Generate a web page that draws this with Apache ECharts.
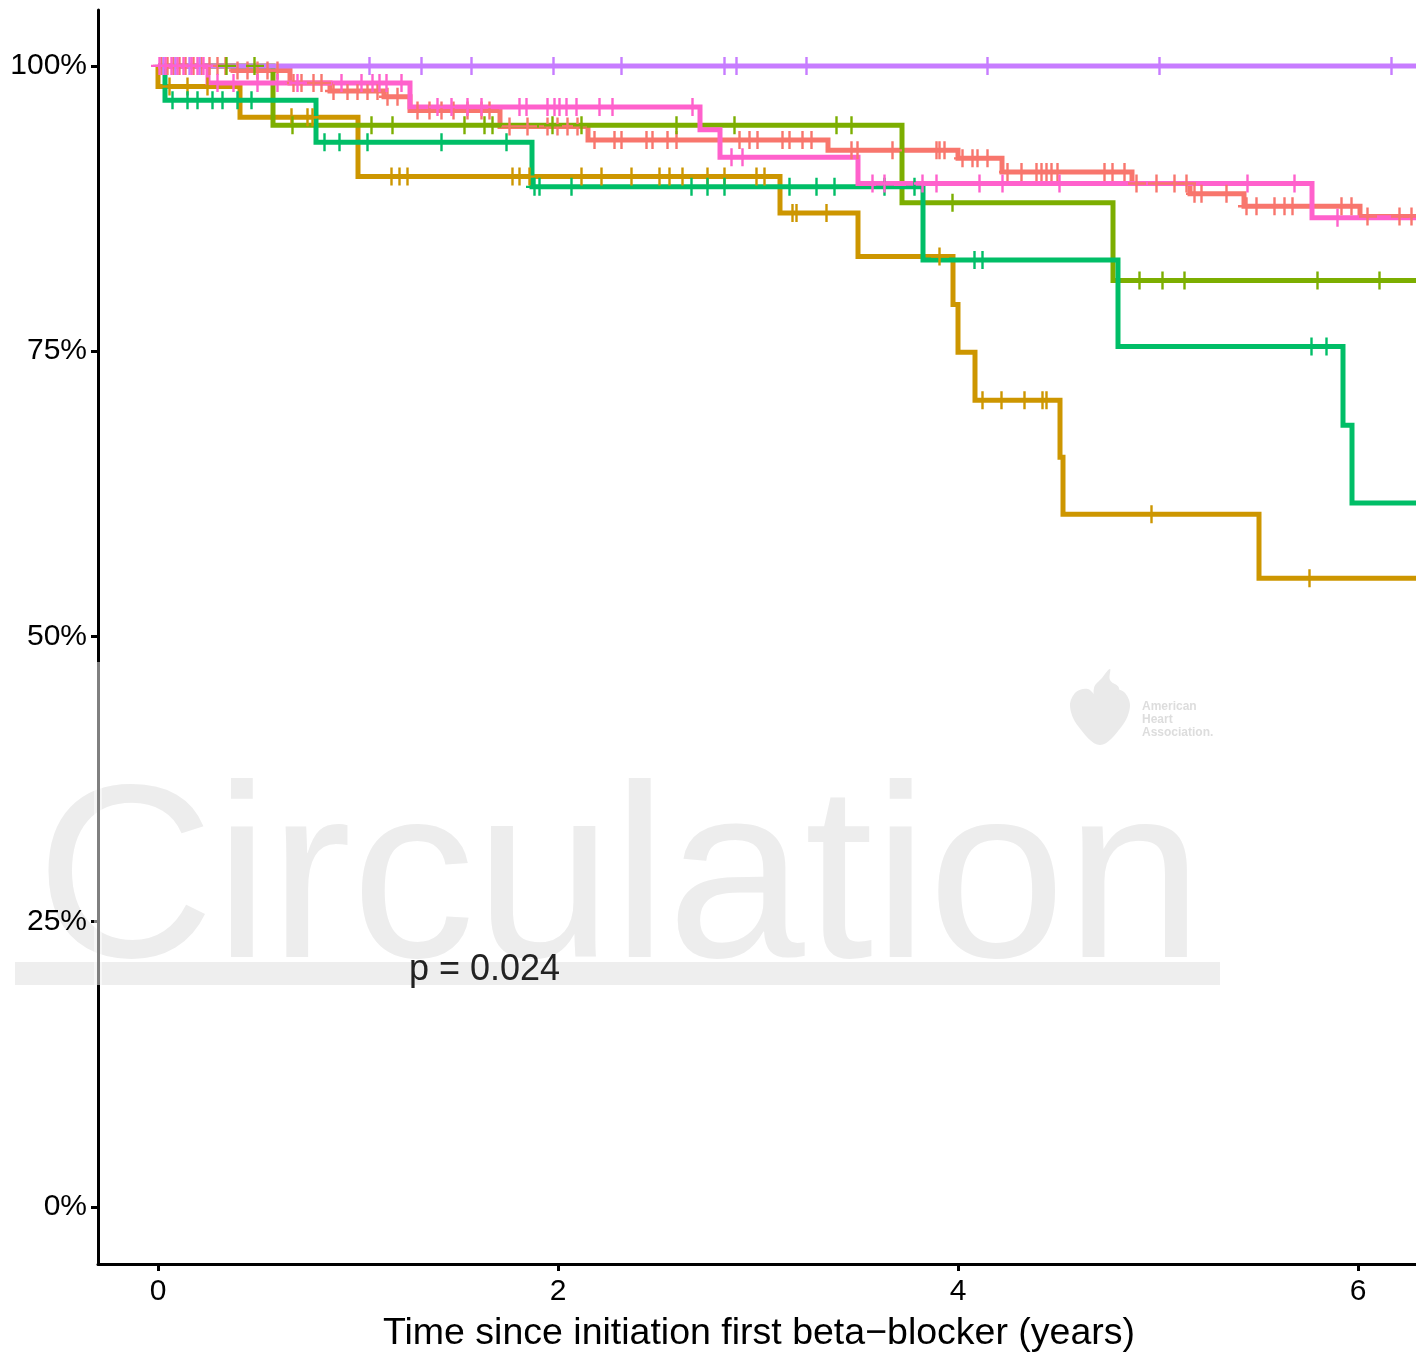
<!DOCTYPE html>
<html>
<head>
<meta charset="utf-8">
<script src="https://cdn.jsdelivr.net/npm/echarts@6/dist/echarts.min.js"></script>
<style>html,body{margin:0;padding:0;background:#fff}#c{width:1416px;height:1354px}</style>
</head>
<body>
<div id="c"></div>
<script>
// ---- Data ----
const groupNames = ['G1', 'G2', 'G3', 'G4', 'G5', 'G6'];
const groupColors = ['#F8766D', '#CD9600', '#7CAE00', '#00BE67', '#C77CFF', '#FF61CC'];

const timesSalmon = [0, 0.375, 0.66, 0.86, 1.13, 1.26, 1.71, 2.15, 3.35, 4.0, 4.22, 4.87, 5.16, 5.43, 6.01, 6.5];
const survSalmon  = [100, 99.6, 98.5, 97.8, 97.3, 96.1, 94.7, 93.5, 92.6, 91.9, 90.7, 89.7, 88.8, 87.7, 86.8, 86.8];

const timesGolden = [0, 0, 0.41, 1.0, 3.11, 3.5, 3.975, 4.0, 4.085, 4.51, 4.525, 5.505, 6.5];
const survGolden  = [100, 98.2, 95.5, 90.3, 87.1, 83.3, 79.1, 74.9, 70.7, 65.7, 60.7, 55.1, 55.1];

const timesOlive = [0, 0.575, 3.72, 4.775, 6.5];
const survOlive  = [100, 94.8, 88.0, 81.2, 81.2];

const timesGreen = [0, 0.035, 0.79, 1.87, 3.825, 4.8, 5.925, 5.97, 6.5];
const survGreen  = [100, 97.0, 93.3, 89.4, 83.0, 75.4, 68.5, 61.7, 61.7];

const timesPurple = [0, 6.5];
const survPurple  = [100, 100];

const timesPink = [0, 0.25, 1.26, 2.71, 2.81, 3.5, 5.77, 6.5];
const survPink  = [100, 98.5, 96.4, 94.4, 92.0, 89.7, 86.7, 86.7];

// censoring times
const censorSalmon = [0.02,0.05,0.08,0.11,0.14,0.18,0.22,0.26,0.3,0.34,0.4,0.45,0.5,0.55,0.6,0.68,0.72,0.78,0.82,0.88,0.95,1.0,1.05,1.1,1.15,1.2,1.3,1.36,1.42,1.48,1.55,1.62,1.66,1.76,1.85,1.95,2.0,2.05,2.1,2.185,2.285,2.32,2.445,2.475,2.55,2.595,2.91,2.96,3.0,3.125,3.16,3.225,3.27,3.47,3.5,3.675,3.895,3.91,3.935,4.025,4.075,4.1,4.15,4.25,4.32,4.395,4.42,4.445,4.47,4.5,4.735,4.775,4.835,4.895,4.995,5.085,5.145,5.185,5.22,5.345,5.445,5.495,5.585,5.635,5.675,5.92,5.97,6.05,6.21,6.27];
const censorGolden = [0.06,0.15,0.25,0.67,0.75,0.775,1.17,1.21,1.25,1.775,1.81,1.86,2.12,2.22,2.37,2.51,2.56,2.625,2.75,2.835,2.995,3.035,3.175,3.195,3.345,3.91,4.125,4.22,4.335,4.425,4.445,4.97,5.76];
const censorOlive = [0.345,0.485,0.675,1.07,1.175,1.535,1.635,1.675,1.975,2.12,2.595,2.885,3.395,3.47,3.975,4.91,5.025,5.135,5.8,6.11];
const censorGreen = [0.075,0.15,0.2,0.275,0.325,0.4,0.47,0.835,0.91,1.05,1.42,1.745,1.885,1.91,2.07,2.67,2.75,2.835,3.16,3.295,3.385,3.635,3.785,4.085,4.125,5.77,5.845];
const censorPurple = [0.03,0.09,0.16,0.21,1.06,1.32,1.57,1.98,2.32,2.835,2.895,3.245,4.15,5.01,6.17];
const censorPink = [0.01,0.04,0.07,0.1,0.13,0.17,0.2,0.23,0.3,0.38,0.5,0.6,0.7,0.92,1.02,1.075,1.11,1.145,1.22,1.4,1.47,1.55,1.62,1.81,1.845,1.95,1.985,2.01,2.045,2.095,2.21,2.275,2.675,2.87,2.925,3.575,3.635,3.825,3.895,4.11,4.225,4.51,5.45,5.685,5.9];

const xTicks = [0, 2, 4, 6];
const yTicks = [0, 25, 50, 75, 100];
const xTitle = 'Time since initiation first beta\u2212blocker (years)';
const pText = 'p = 0.024';

// ---- Build ----
const curves = [
  [timesSalmon, survSalmon, censorSalmon],
  [timesGolden, survGolden, censorGolden],
  [timesOlive, survOlive, censorOlive],
  [timesGreen, survGreen, censorGreen],
  [timesPurple, survPurple, censorPurple],
  [timesPink, survPink, censorPink]
];
function survAt(times, surv, t) {
  let v = surv[0];
  for (let i = 0; i < times.length; i++) { if (times[i] <= t) v = surv[i]; }
  return v;
}
const FONT = 'Liberation Sans, Arial, sans-serif';
const plus = 'path://M7.3,0H9.7V18H7.3Z M0,7.8H18V10.2H0Z';

const series = [];
curves.forEach((c, k) => {
  series.push({
    type: 'line', name: groupNames[k], step: 'end', showSymbol: false, symbol: 'none',
    data: c[0].map((t, i) => [t, c[1][i]]),
    lineStyle: { color: groupColors[k], width: 5, cap: 'butt', join: 'miter' },
    itemStyle: { color: groupColors[k] },
    clip: true, silent: true, animation: false, z: 2
  });
});
curves.forEach((c, k) => {
  series.push({
    type: 'scatter', name: groupNames[k] + ' censor',
    data: c[2].map(t => [t, survAt(c[0], c[1], t)]),
    symbol: plus, symbolSize: 18,
    itemStyle: { color: groupColors[k], opacity: 1 },
    clip: true, silent: true, animation: false, z: 3
  });
});

const chart = echarts.init(document.getElementById('c'), null, { renderer: 'canvas' });
chart.setOption({
  backgroundColor: '#ffffff',
  animation: false,
  grid: { left: 98, top: 10, width: 1322, height: 1254, containLabel: false, outerBoundsMode: 'none' },
  xAxis: {
    type: 'value', min: -0.3, max: 6.31,
    axisLine: { show: true, onZero: false, lineStyle: { color: '#000', width: 3 } },
    axisTick: { show: true, length: 7, lineStyle: { color: '#000', width: 3 }, customValues: xTicks },
    axisLabel: { color: '#000', fontSize: 30, fontFamily: FONT, margin: 13, customValues: xTicks },
    splitLine: { show: false },
    name: xTitle, nameLocation: 'middle', nameGap: 51,
    nameTextStyle: { color: '#000', fontSize: 37.5, fontFamily: FONT }
  },
  yAxis: {
    type: 'value', min: -5, max: 104.9,
    axisLine: { show: true, onZero: false, lineStyle: { color: '#000', width: 3 } },
    axisTick: { show: true, length: 7, lineStyle: { color: '#000', width: 3 }, customValues: yTicks },
    axisLabel: { color: '#000', fontSize: 30, fontFamily: FONT, margin: 11, customValues: yTicks,
      formatter: v => v + '%' },
    splitLine: { show: false }
  },
  series: series,
  graphic: [
    { type: 'rect', z: 0, silent: true, shape: { x: 15, y: 962, width: 1205, height: 23 }, style: { fill: '#eeeeee' } },
    { type: 'text', z: 0, silent: true, x: 36, y: 889,
      style: { text: 'Circulation', font: '247px ' + FONT, fill: '#ededed', verticalAlign: 'middle', align: 'left' } },
    { type: 'polygon', z: 0, silent: true,
      shape: { smooth: 0.35, points: [[1100,745],[1078,726],[1070,706],[1076,692],[1088,689],[1100,699],[1112,689],[1124,692],[1130,706],[1122,726]] },
      style: { fill: '#eaeaea' } },
    { type: 'polygon', z: 0, silent: true,
      shape: { smooth: 0.4, points: [[1097,701],[1094,688],[1102,678],[1110,669],[1110,680],[1119,688],[1114,698]] },
      style: { fill: '#eaeaea' } },
    { type: 'text', z: 0, silent: true, x: 1142, y: 700,
      style: { text: 'American\nHeart\nAssociation.', font: 'bold 12px ' + FONT, lineHeight: 13, fill: '#dddddd', verticalAlign: 'top' } },
    { type: 'rect', z: 100, silent: true, shape: { x: 94, y: 662, width: 8, height: 323 }, style: { fill: 'rgba(255,255,255,0.5)' } },
    { type: 'text', z: 100, silent: true, x: 409, y: 970,
      style: { text: pText, font: '36px ' + FONT, fill: '#222222', verticalAlign: 'middle', align: 'left' } }
  ]
});
</script>
</body>
</html>
